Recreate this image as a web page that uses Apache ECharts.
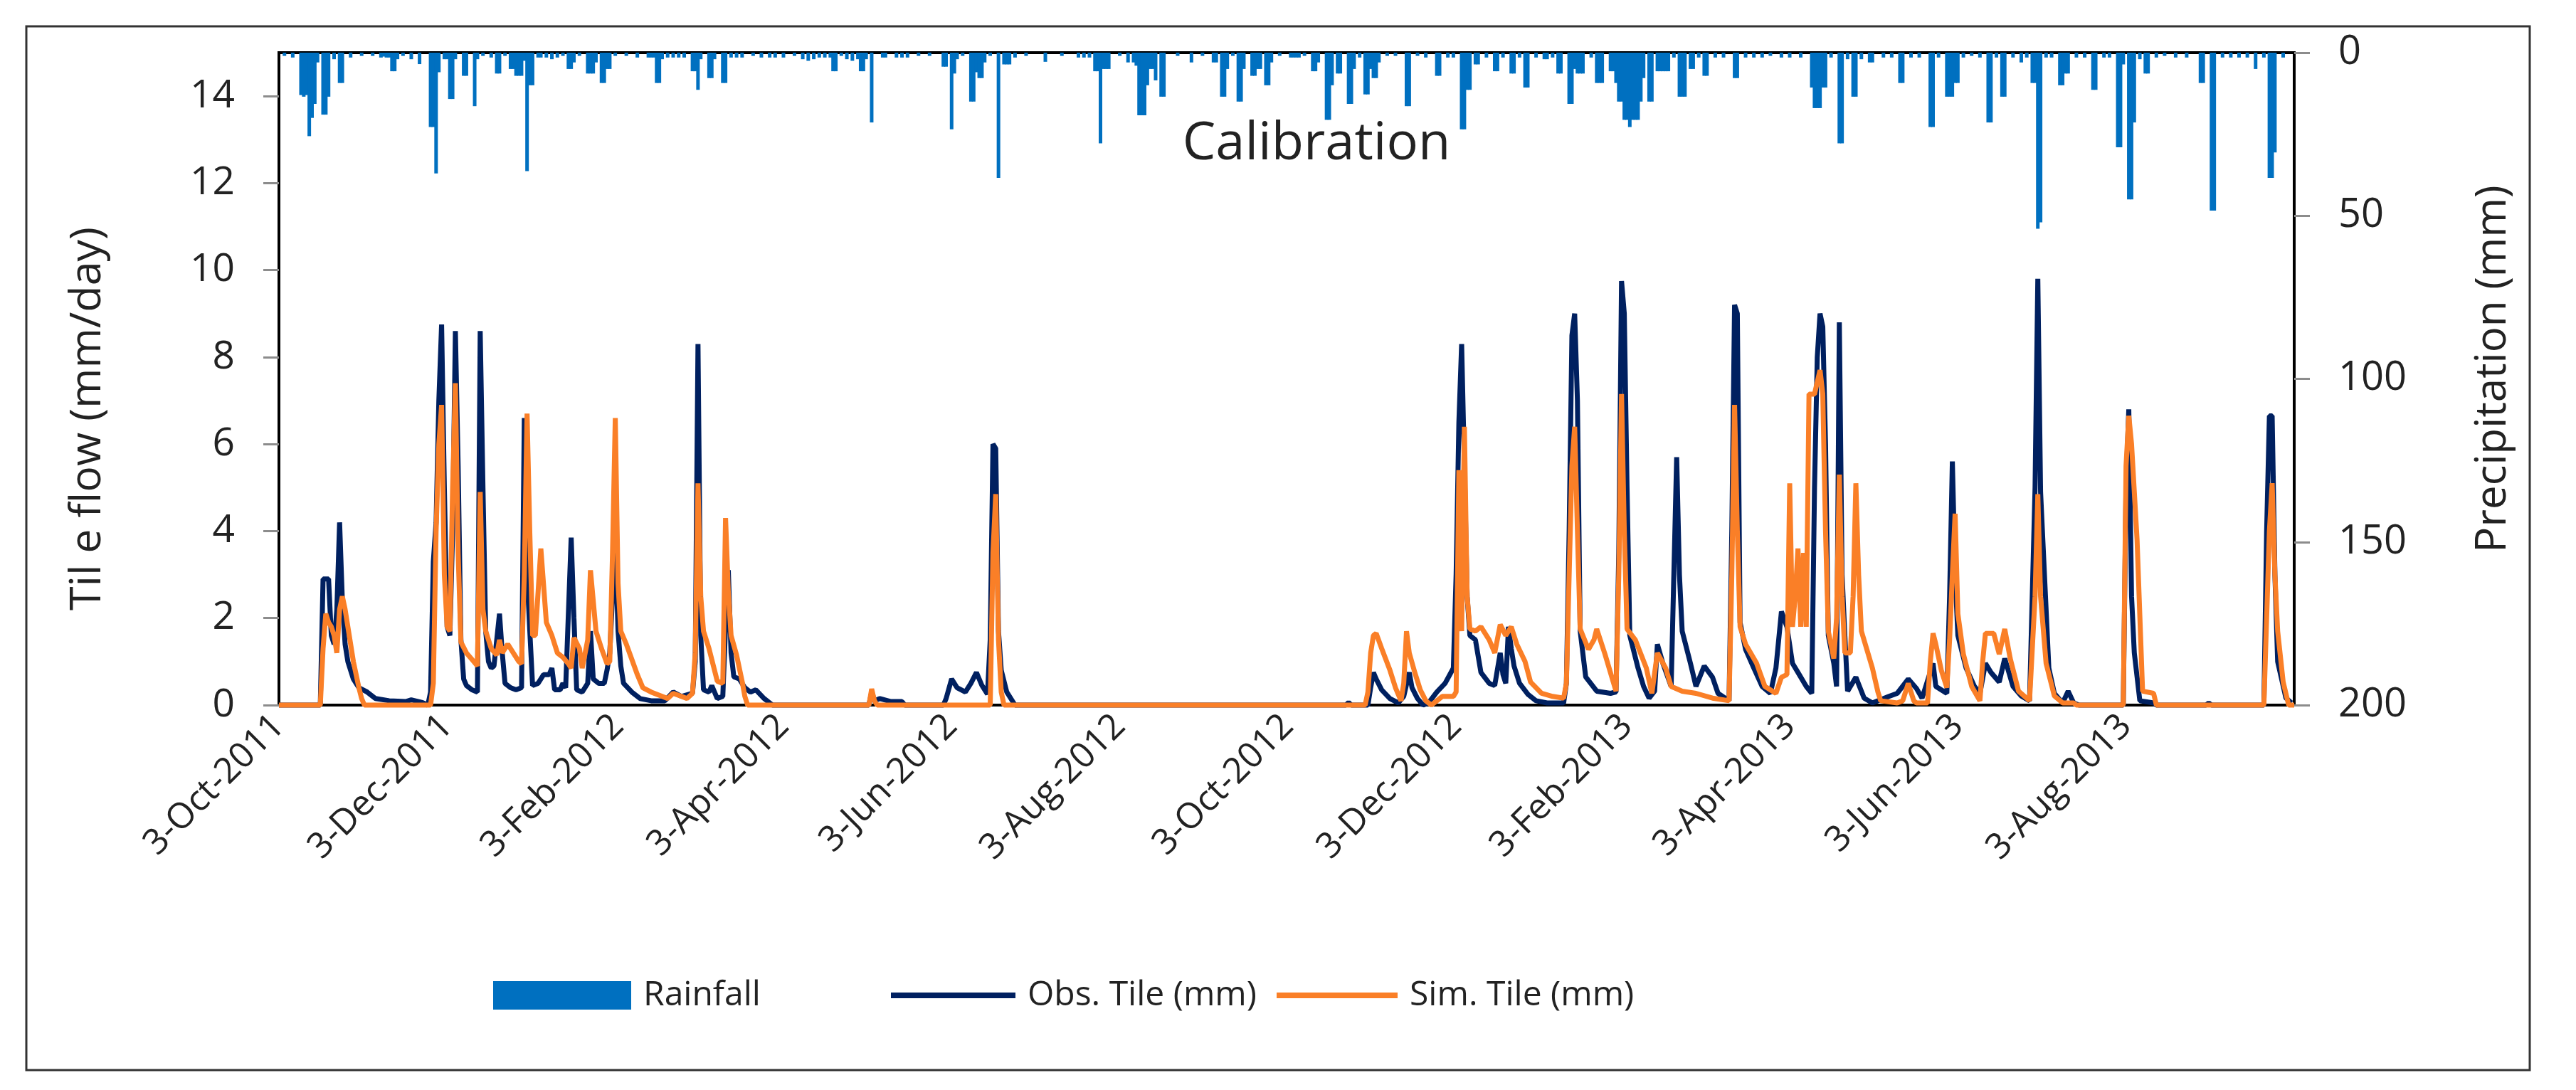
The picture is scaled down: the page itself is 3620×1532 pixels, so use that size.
<!DOCTYPE html>
<html>
<head>
<meta charset="utf-8">
<title>Calibration</title>
<script src="https://cdn.jsdelivr.net/npm/echarts@6/dist/echarts.min.js"></script>
<style>
html,body{margin:0;padding:0;background:#fff;}
#main{width:3620px;height:1532px;}
</style>
</head>
<body>
<div id="main"></div>
<script>
// x = days since 3-Oct-2011
var tickDays = [0, 61, 123, 183, 244, 305, 366, 427, 489, 548, 609, 670];
var tickLabels = ['3-Oct-2011', '3-Dec-2011', '3-Feb-2012', '3-Apr-2012', '3-Jun-2012', '3-Aug-2012',
                  '3-Oct-2012', '3-Dec-2012', '3-Feb-2013', '3-Apr-2013', '3-Jun-2013', '3-Aug-2013'];
var leftTicks = [0, 2, 4, 6, 8, 10, 12, 14];
var rightTicks = [0, 50, 100, 150, 200];

// daily rainfall (mm), [day, value]
var rainfall = [
 [2,1],[5,1.5],[8,13],[9,13.5],[10,13],[11,25.6],[12,20],[13,15.7],[14,3],[16,19],[17,19],[18,13.5],[20,2],[22,9.3],[23,9.3],[26,1.5],[30,1],[34,1],
 [37,1.5],[38,1.2],[39,1.5],[40,1.5],[41,5.7],[42,5.7],[43,2],[45,1],[48,2],[51,3.5],[55,22.8],[56,22.8],[57,37],[58,6],[60,2],[61,2],[62,14.2],[63,14.2],
 [64,2],[67,7.1],[68,7.1],[71,16.4],[72,2],[74,1],[77,1.5],[79,6.4],[80,6.4],[82,1],[84,5],[85,5],[86,7.1],[87,7.1],[88,7.1],[89,2.5],[90,36.3],[91,10],
 [92,10],[94,1.5],[95,1.5],[97,1.5],[99,2],[101,1.5],[103,1],[105,5],[106,5],[107,3],[109,1],[112,6.4],[113,6.4],[114,6.4],[115,3],[117,9.3],[118,9.3],
 [119,5],[120,5],[122,1],[126,1],[130,1.5],[134,1.5],[135,1.5],[136,1.5],[137,9.3],[138,9.3],[139,2],[141,1.5],[143,1.5],[145,1.5],[147,1.5],[150,5.7],
 [151,5.7],[152,11.4],[153,2],[156,7.8],[157,7.8],[158,2],[161,9.3],[162,9.3],[164,1.5],[166,1.5],[168,1.5],[172,1],[175,1.5],[178,1.5],[180,1.5],[183,1.5],
 [187,1],[190,2],[192,2.5],[194,2],[196,1.5],[198,1.5],[200,1.5],[201,5.7],[202,5.7],[204,1],[206,2],[208,2.5],[210,2],[211,5.7],[212,5.7],[213,2],[215,21.4],
 [219,1.5],[220,1.5],[224,1.5],[226,1.5],[228,1.5],[232,1],[236,1],[241,4.3],[242,4.3],[244,23.5],[245,6.4],[246,2],[248,1],[251,15],[252,15],[253,6],
 [254,7.8],[255,7.8],[256,3],[258,1],[261,38.4],[263,3.6],[264,3.6],[265,3.6],[267,1.5],[271,1],[278,2.8],[284,1],[290,1.5],[292,1.5],[294,1.5],[296,5.7],
 [297,5.7],[298,27.8],[299,5],[300,5],[301,5],[305,1],[308,3],[310,3],[311,4],[312,19.2],[313,19.2],[314,19.2],[315,10],[316,5],[317,5],[318,8.5],[320,13.5],
 [321,13.5],[326,1],[331,3],[335,1],[339,3],[340,3],[342,13.5],[343,13.5],[344,5],[346,1],[348,15],[349,15],[350,5],[353,7.1],[354,7.1],[355,5],[356,5],
 [358,10],[359,10],[360,3],[363,1],[367,1.5],[368,1.5],[369,1.5],[370,1.5],[372,1],[375,5.7],[376,5.7],[377,3],[380,20.6],[381,20.6],[382,10],[384,6.4],
 [385,6.4],[388,15.7],[389,15.7],[390,5],[392,1.5],[394,12.8],[395,12.8],[396,5],[397,7.8],[398,7.8],[399,3],[402,1],[405,1],[409,16.4],[410,16.4],[413,1],
 [416,1.5],[420,7.1],[421,7.1],[424,1.5],[426,1.5],[429,23.5],[430,23.5],[431,11.4],[432,11.4],[434,3.6],[435,3.6],[438,1.5],[441,5.7],[442,5.7],[444,1.5],
 [447,6.4],[448,6.4],[450,1.5],[452,10.7],[453,10.7],[456,1.5],[459,2],[460,2],[462,1.5],[464,6.4],[465,6.4],[468,15.7],[469,15.7],[470,5],[471,6.4],
 [472,6.4],[473,6.4],[476,1.5],[478,9.3],[479,9.3],[480,9.3],[483,5.7],[484,5.7],[485,9.3],[486,15],[487,15],[488,20.6],[489,20.6],[490,22.8],[491,20.6],
 [492,20.6],[493,20.6],[494,15],[495,7.8],[497,15],[498,15],[500,5.7],[501,5.7],[502,5.7],[503,5.7],[504,5.7],[506,1.5],[508,13.5],[509,13.5],[510,13.5],
 [512,5],[513,5],[515,1.5],[517,7.1],[518,7.1],[521,1.5],[524,1.5],[528,7.8],[529,7.8],[532,1.5],[535,1.5],[538,1.5],[541,1],[545,1.5],[548,1.5],[552,1.5],
 [556,10.7],[557,17],[558,17],[559,17],[560,10.7],[561,10.7],[563,1.5],[566,27.8],[567,27.8],[569,2],[571,13.5],[572,13.5],[574,2],[577,3],[578,3],
 [582,1.5],[585,1.5],[588,9.3],[589,9.3],[592,1.5],[595,1.5],[599,22.8],[600,22.8],[602,1.5],[605,13.5],[606,13.5],[607,13.5],[608,9.3],[609,9.3],
 [611,1.5],[614,1],[617,1.5],[620,21.4],[621,21.4],[623,1.5],[625,13.5],[626,13.5],[629,1.5],[632,3],[634,1.5],[636,9.3],[637,9.3],[638,54],[639,52],
 [641,1.5],[643,1.5],[646,10],[647,10],[648,6.4],[649,6.4],[652,1.5],[655,1.5],[658,11.4],[659,11.4],[662,1.5],[664,1.5],[667,29],[668,29],[669,3.6],
 [671,45],[672,45],[673,21.4],[675,2],[677,6.4],[678,6.4],[681,1.5],[684,1],[688,1.5],[692,1.5],[697,9.3],[698,9.3],[701,48.4],[702,48.4],[705,1.5],
 [708,1.5],[711,1.5],[714,1.5],[717,5],[720,1.5],[722,38.4],[723,38.4],[724,30.6],[727,1.5]
];

// observed tile flow (mm/day)
var obsTile = [
 [0,0],[15,0],[16,2.9],[18,2.9],[19,1.6],[20,1.4],[21,2.2],[22,4.2],[23,2.4],[24,1.4],[25,1.0],[27,0.6],[29,0.4],[32,0.3],[35,0.15],[40,0.1],[46,0.08],
 [48,0.12],[52,0.06],[54,0],[55,0.3],[56,3.3],[57,4.2],[58,7.0],[59,8.75],[60,5.0],[61,1.8],[62,1.6],[63,4.0],[64,8.6],[65,5.5],[66,1.5],[67,0.6],[68,0.45],
 [70,0.35],[72,0.3],[73,8.6],[74,5.0],[75,1.7],[76,1.0],[77,0.85],[78,0.9],[80,2.1],[81,1.2],[82,0.5],[84,0.4],[86,0.35],[88,0.4],[89,6.6],[90,3.0],
 [91,1.7],[92,0.45],[94,0.5],[96,0.7],[98,0.7],[99,0.85],[100,0.35],[102,0.35],[103,0.5],[104,0.4],[106,3.85],[107,2.0],[108,0.35],[110,0.3],[112,0.5],
 [113,1.7],[114,0.6],[116,0.5],[118,0.5],[119,0.8],[120,1.2],[121,2.5],[122,3.8],[123,1.7],[124,0.9],[125,0.5],[128,0.3],[131,0.15],[135,0.1],[140,0.1],
 [143,0.3],[146,0.2],[150,0.27],[151,1.0],[152,8.3],[153,1.6],[154,0.35],[156,0.3],[157,0.45],[159,0.15],[161,0.2],[162,1.8],[163,3.1],[164,1.2],
 [165,0.65],[167,0.6],[169,0.4],[171,0.3],[173,0.35],[176,0.15],[179,0],[214,0],[215,0.3],[216,0.1],[218,0.15],[222,0.08],[226,0.08],[227,0],[241,0],
 [242,0.15],[244,0.6],[246,0.4],[249,0.3],[251,0.5],[253,0.75],[255,0.45],[257,0.25],[258,1.5],[259,6.0],[260,5.9],[261,1.7],[262,0.8],[264,0.3],[267,0],
 [387,0],[388,0.06],[389,0],[395,0],[396,0.4],[397,0.75],[398,0.6],[400,0.35],[403,0.15],[406,0.05],[408,0.2],[410,0.75],[411,0.4],[413,0.15],[415,0],
 [417,0.05],[420,0.3],[423,0.5],[426,0.85],[427,3.0],[428,6.5],[429,8.3],[430,5.5],[431,2.5],[432,1.6],[434,1.5],[436,0.75],[439,0.5],[441,0.45],[443,1.2],
 [444,0.7],[445,0.5],[446,1.8],[447,1.3],[448,0.9],[450,0.5],[453,0.25],[456,0.1],[460,0.05],[466,0.05],[467,0.5],[468,4.0],[469,8.5],[470,9.0],[471,7.0],
 [472,1.7],[474,0.65],[478,0.32],[483,0.27],[485,0.3],[486,3.5],[487,9.75],[488,9.0],[489,5.0],[490,1.6],[493,0.85],[495,0.43],[497,0.16],[499,0.32],
 [500,1.4],[502,0.96],[505,0.43],[507,5.7],[508,3.0],[509,1.7],[512,0.96],[514,0.43],[517,0.9],[520,0.64],[522,0.27],[526,0.1],[527,4.0],[528,9.2],
 [529,9.0],[530,1.9],[532,1.28],[535,0.85],[538,0.43],[541,0.27],[543,0.85],[545,2.15],[547,1.8],[549,0.96],[551,0.75],[554,0.43],[556,0.27],[557,5.0],
 [558,8.0],[559,9.0],[560,8.7],[561,6.0],[562,1.6],[564,0.96],[565,0.43],[566,8.8],[567,3.0],[568,1.6],[569,0.32],[572,0.64],[575,0.16],[578,0.05],
 [584,0.2],[587,0.27],[591,0.6],[594,0.38],[596,0.16],[600,0.96],[601,0.43],[605,0.27],[606,2.5],[607,5.6],[608,3.0],[609,1.6],[612,0.85],[615,0.43],
 [617,0.27],[619,0.96],[621,0.75],[624,0.53],[626,1.07],[629,0.43],[632,0.21],[635,0.1],[637,5.0],[638,9.8],[639,4.9],[642,0.85],[644,0.27],[647,0.05],
 [649,0.32],[651,0.05],[653,0],[669,0],[670,5.0],[671,6.8],[672,2.5],[673,1.2],[675,0.1],[680,0.05],[681,0],[699,0],[700,0.05],[701,0],[720,0],[721,4.0],
 [722,6.65],[723,6.65],[724,3.0],[725,1.0],[728,0.16],[730,0.05]
];

// simulated tile flow (mm/day)
var simTile = [
 [0,0],[15,0],[16,1.3],[17,2.1],[18,1.9],[19,1.8],[20,1.6],[21,1.2],[22,2.2],[23,2.5],[24,2.2],[25,1.8],[26,1.4],[27,1.0],[28,0.7],[29,0.4],[30,0.15],
 [31,0],[55,0],[56,0.5],[57,4.0],[58,6.0],[59,6.9],[60,3.0],[61,1.8],[62,1.7],[63,5.0],[64,7.4],[65,3.5],[66,1.45],[68,1.2],[70,1.05],[72,0.9],[73,4.9],
 [74,2.2],[75,1.7],[77,1.3],[79,1.15],[80,1.5],[81,1.2],[83,1.4],[85,1.2],[87,1.0],[88,0.95],[89,3.0],[90,6.7],[91,3.95],[92,1.6],[93,1.6],[95,3.6],
 [97,1.9],[99,1.6],[101,1.2],[103,1.1],[105,0.95],[106,0.85],[107,1.55],[109,1.3],[110,0.85],[112,1.5],[113,3.1],[115,1.7],[117,1.3],[119,0.95],[120,1.0],
 [121,3.5],[122,6.6],[123,2.8],[124,1.7],[126,1.4],[128,1.05],[130,0.7],[132,0.4],[135,0.3],[137,0.25],[141,0.15],[143,0.27],[146,0.2],[148,0.15],
 [150,0.27],[151,1.2],[152,5.1],[153,2.5],[154,1.7],[156,1.3],[158,0.8],[159,0.55],[161,0.5],[162,4.3],[163,2.6],[164,1.6],[166,1.15],[168,0.55],
 [169,0.2],[170,0],[214,0],[215,0.37],[216,0.1],[217,0],[258,0],[259,3.5],[260,4.85],[261,1.5],[262,0.3],[263,0],[394,0],[395,0.3],[396,1.2],[397,1.6],
 [398,1.65],[400,1.3],[403,0.8],[405,0.4],[407,0.1],[408,0.5],[409,1.7],[410,1.2],[412,0.75],[414,0.35],[416,0.1],[418,0],[420,0.1],[422,0.2],[426,0.2],
 [427,0.3],[428,5.4],[429,1.7],[430,6.4],[431,2.5],[432,1.75],[434,1.7],[436,1.8],[439,1.5],[441,1.2],[443,1.85],[445,1.6],[447,1.8],[449,1.4],[452,1.0],
 [454,0.53],[458,0.27],[462,0.2],[466,0.16],[467,0.5],[468,3.0],[469,5.5],[470,6.4],[471,4.0],[472,1.75],[475,1.28],[477,1.5],[478,1.75],[481,1.17],
 [484,0.53],[485,0.32],[486,3.0],[487,7.15],[488,4.0],[489,1.75],[492,1.5],[496,0.85],[498,0.27],[500,1.2],[503,0.85],[505,0.43],[509,0.32],[514,0.27],
 [520,0.16],[526,0.1],[527,3.0],[528,6.9],[529,4.0],[530,1.8],[532,1.4],[536,0.96],[539,0.43],[543,0.27],[545,0.64],[547,0.7],[548,5.1],[549,1.8],
 [550,2.5],[551,3.6],[552,1.8],[553,3.5],[554,1.8],[555,7.15],[557,7.15],[559,7.7],[560,7.15],[561,4.0],[562,1.7],[564,1.07],[565,2.0],[566,5.3],
 [567,2.5],[568,1.2],[570,1.2],[571,2.5],[572,5.1],[573,3.0],[574,1.7],[578,0.85],[580,0.3],[581,0.1],[587,0.05],[589,0.1],[591,0.5],[593,0.1],[594,0.05],
 [598,0.05],[599,1.0],[600,1.65],[601,1.4],[603,0.8],[605,0.4],[606,1.5],[607,3.0],[608,4.4],[609,2.1],[611,1.17],[614,0.43],[617,0.1],[618,1.0],
 [619,1.65],[622,1.65],[624,1.17],[626,1.75],[628,1.07],[631,0.32],[635,0.1],[637,2.5],[638,4.85],[639,2.5],[641,0.96],[644,0.21],[647,0.05],[651,0.05],
 [652,0],[669,0],[670,5.5],[671,6.65],[672,6.0],[674,3.8],[676,0.32],[680,0.27],[681,0],[720,0],[721,2.0],[722,4.0],[723,5.1],[724,3.0],[725,1.7],
 [727,0.53],[729,0],[731,0]
];

var font = 'Open Sans';
var txt = '#222';

var myChart = echarts.init(document.getElementById('main'));

// one legend per item so each sits where the original has it
function legendOf(name, left, w, h) {
    return {
        data: [{name: name, icon: 'rect'}],
        left: left,
        top: 1370,
        itemWidth: w,
        itemHeight: h,
        textStyle: {fontFamily: font, fontSize: 48, color: txt, padding: [0, 0, 0, 12]}
    };
}

var option = {
    animation: false,
    backgroundColor: '#fff',
    textStyle: {fontFamily: font},
    grid: {
        left: 392, right: 396, top: 74, bottom: 541,
        show: true, borderColor: '#000', borderWidth: 4, backgroundColor: 'transparent'
    },
    legend: [
        legendOf('Rainfall', 688, 194, 40),
        legendOf('Obs. Tile (mm)', 1247, 175, 8),
        legendOf('Sim. Tile (mm)', 1789, 170, 8)
    ],
    xAxis: {
        type: 'value',
        min: 0,
        max: 731,
        axisLine: {show: true, onZero: false, lineStyle: {color: '#000', width: 4}},
        axisTick: {show: false},
        splitLine: {show: false},
        axisLabel: {
            customValues: tickDays,
            rotate: 45,
            margin: 22,
            fontSize: 50,
            color: txt,
            formatter: function (v) {
                var i = tickDays.indexOf(v);
                return i < 0 ? '' : tickLabels[i];
            }
        }
    },
    yAxis: [
        {
            type: 'value',
            min: 0, max: 15, interval: 2,
            name: 'Til e flow (mm/day)',
            nameLocation: 'middle',
            nameRotate: 90,
            nameGap: 238,
            nameTextStyle: {fontFamily: font, fontSize: 61, color: txt, padding: [0, 112, 0, 0]},
            axisLine: {show: true, lineStyle: {color: '#000', width: 4}},
            axisTick: {show: true, length: 22, customValues: leftTicks, lineStyle: {color: '#8c8c8c', width: 3}},
            axisLabel: {
                customValues: leftTicks, margin: 62, fontSize: 55, color: txt,
                formatter: function (v) { return v === 15 ? '' : v; }
            },
            splitLine: {show: false}
        },
        {
            type: 'value',
            min: 0, max: 200, interval: 50,
            inverse: true,
            position: 'right',
            name: 'Precipitation (mm)',
            nameLocation: 'middle',
            nameRotate: 90,
            nameGap: 250,
            nameTextStyle: {fontFamily: font, fontSize: 60, color: txt, padding: [0, 0, 0, 28]},
            axisLine: {show: true, lineStyle: {color: '#000', width: 4}},
            axisTick: {show: true, length: 22, customValues: rightTicks, lineStyle: {color: '#8c8c8c', width: 3}},
            axisLabel: {customValues: rightTicks, margin: 62, fontSize: 56, color: txt},
            splitLine: {show: false}
        }
    ],
    graphic: [
        {
            type: 'rect',
            silent: true,
            shape: {x: 37, y: 37, width: 3518, height: 1467},
            style: {fill: 'none', stroke: '#333', lineWidth: 3}
        },
        {
            type: 'text',
            silent: true,
            x: 1850,
            y: 203,
            style: {text: 'Calibration', fontFamily: font, fontSize: 74, fill: txt, align: 'center', verticalAlign: 'middle'}
        }
    ],
    series: [
        {
            name: 'Rainfall',
            type: 'bar',
            yAxisIndex: 1,
            data: rainfall,
            barWidth: 5,
            itemStyle: {color: '#0070C0'},
            z: 1
        },
        {
            name: 'Obs. Tile (mm)',
            type: 'line',
            data: obsTile,
            symbol: 'none',
            clip: false,
            lineStyle: {color: '#002060', width: 7},
            itemStyle: {color: '#002060'},
            z: 2
        },
        {
            name: 'Sim. Tile (mm)',
            type: 'line',
            data: simTile,
            symbol: 'none',
            clip: false,
            lineStyle: {color: '#FA7F27', width: 7},
            itemStyle: {color: '#FA7F27'},
            z: 3
        }
    ]
};

myChart.setOption(option);
window.addEventListener('resize', function () {
    myChart.resize();
});
</script>
</body>
</html>
